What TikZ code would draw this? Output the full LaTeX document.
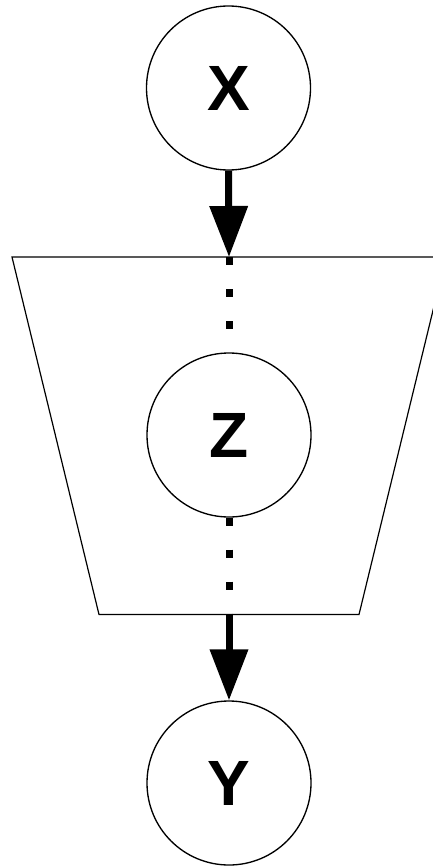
\documentclass[tikz,border=0pt]{standalone}
\usepackage{fontspec}
\setmainfont{Liberation Sans}
\usetikzlibrary{arrows.meta}
\begin{document}
\begin{tikzpicture}[x=0.75pt,y=-0.75pt,
  var/.style={circle,draw,line width=1pt,minimum size=123pt,inner sep=0pt,font=\fontsize{48}{48}\selectfont\bfseries},
  flow/.style={line width=5.25pt,-{Triangle[width=27.75pt,length=38.25pt]}},
  hidden/.style={line width=5.25pt,dash pattern=on 6pt off 18pt}]
\useasboundingbox (0,0) rectangle (432,866);
\draw[line width=0.9pt] (12,257) -- (446,257) -- (359,614.5) -- (99,614.5) -- cycle;
\node[var] (X) at (228.5,88) {X};
\node[var] (Z) at (229,435) {Z};
\node[var] (Y) at (229,783) {Y};
\coordinate (ttop) at (229,257);
\coordinate (tbot) at (229,614.5);
\draw[flow] (X.south) -- (ttop);
\draw[hidden] (ttop) -- (Z.north);
\draw[hidden] (Z.south) -- (tbot);
\draw[flow] (tbot) -- (Y.north);
\end{tikzpicture}
\end{document}
